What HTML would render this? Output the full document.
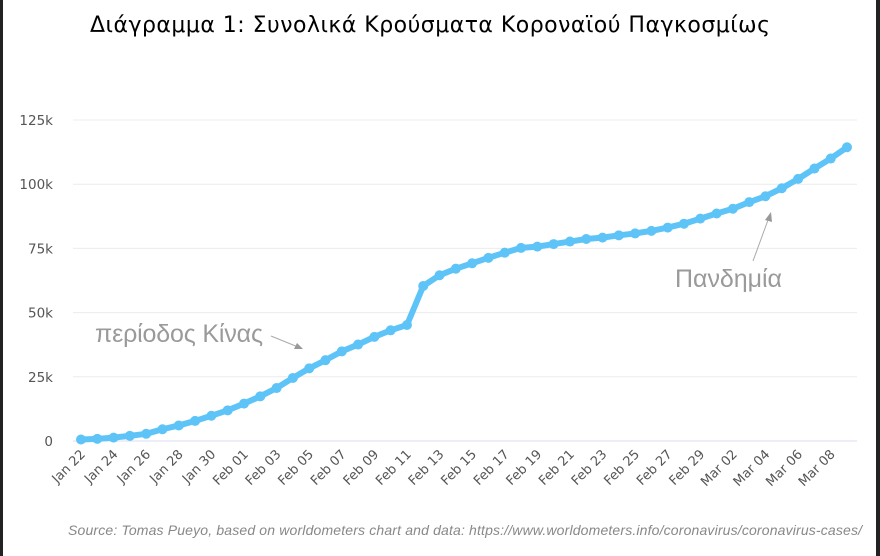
<!DOCTYPE html>
<html><head><meta charset="utf-8"><style>
html,body{margin:0;padding:0;background:#fff}
svg{display:block}
</style></head><body>
<svg id="chart" width="880" height="556" viewBox="0 0 880 556" xmlns="http://www.w3.org/2000/svg">
<rect x="0" y="0" width="880" height="556" fill="#fff"/>
<rect x="0" y="0" width="3" height="556" fill="#222"/>
<rect x="876" y="0" width="4" height="556" fill="#222"/>
<text x="90" y="32" font-family="DejaVu Sans, sans-serif" font-size="22" fill="#000" textLength="680">Διάγραμμα 1: Συνολικά Κρούσματα Κοροναϊού Παγκοσμίως</text>
<g id="grid"></g>
<g id="yticks"></g>
<g id="xticks"></g>
<g id="series"></g>
<text x="95" y="342" font-family="Liberation Sans, sans-serif" font-size="25" fill="#9a9a9a" textLength="168">περίοδος Κίνας</text>
<g>
<line x1="271" y1="336" x2="298" y2="347" stroke="#aaa" stroke-width="1"/>
<polygon points="303,349 294,349 297,343" fill="#999"/>
</g>
<text x="675" y="287" font-family="Liberation Sans, sans-serif" font-size="25" fill="#9a9a9a" textLength="107">Πανδημία</text>
<g>
<line x1="753" y1="261" x2="768" y2="220" stroke="#aaa" stroke-width="1"/>
<polygon points="771,212 772,222 765,220" fill="#999"/>
</g>
<text x="68" y="535" font-family="Liberation Sans, sans-serif" font-style="italic" font-size="14" fill="#888" textLength="794">Source: Tomas Pueyo, based on worldometers chart and data: https://www.worldometers.info/coronavirus/coronavirus-cases/</text>
</svg>
<script>
const dates = ["Jan 22","Jan 23","Jan 24","Jan 25","Jan 26","Jan 27","Jan 28","Jan 29","Jan 30","Jan 31","Feb 01","Feb 02","Feb 03","Feb 04","Feb 05","Feb 06","Feb 07","Feb 08","Feb 09","Feb 10","Feb 11","Feb 12","Feb 13","Feb 14","Feb 15","Feb 16","Feb 17","Feb 18","Feb 19","Feb 20","Feb 21","Feb 22","Feb 23","Feb 24","Feb 25","Feb 26","Feb 27","Feb 28","Feb 29","Mar 01","Mar 02","Mar 03","Mar 04","Mar 05","Mar 06","Mar 07","Mar 08","Mar 09"];
const cases = [580,845,1317,2015,2800,4581,6058,7813,9823,11948,14551,17389,20628,24553,28276,31481,34886,37558,40554,43103,45171,60381,64543,67100,69197,71329,73332,75184,75700,76677,77673,78651,79205,80087,80828,81820,83112,84615,86604,88585,90443,93016,95314,98425,102050,106099,109991,114381];
const yTicks = [0,25000,50000,75000,100000,125000];
const yTickLabels = ["0","25k","50k","75k","100k","125k"];

const NS="http://www.w3.org/2000/svg";
const x0=81,x1=847,yBase=441,yTop=120;
function xScale(i){return x0+(x1-x0)*i/(dates.length-1);}
function yScale(v){return yBase-(yBase-yTop)*v/125000;}
function mk(tag,attrs,parent){const e=document.createElementNS(NS,tag);for(const k in attrs)e.setAttribute(k,attrs[k]);parent.appendChild(e);return e;}

const grid=document.getElementById('grid'),yt=document.getElementById('yticks'),xt=document.getElementById('xticks'),ser=document.getElementById('series');
yTicks.forEach((v,i)=>{
  const y=yScale(v);
  const l=mk('line',{x1:73,x2:857,y1:y,y2:y,stroke:i===0?'#dcdcf0':'#ececec','stroke-width':1},grid);
  
  
  const t=mk('text',{x:53,y:y+5,'text-anchor':'end','font-family':'DejaVu Sans, sans-serif','font-size':13.5,fill:'#555'},yt);
  t.textContent=yTickLabels[i];
  
  
});
dates.forEach((d,i)=>{
  if(i%2) return;
  const x=xScale(i);
  const tx=x+5, ty=455;
  const t=mk('text',{x:tx,y:ty,'text-anchor':'end','font-family':'DejaVu Sans, sans-serif','font-size':13,fill:'#555',transform:'rotate(-45 '+tx+' '+ty+')'},xt);
  t.textContent=d;
  
  
});
const pts=cases.map((v,i)=>xScale(i)+','+yScale(v)).join(' ');
const line=mk('polyline',{points:pts,fill:'none',stroke:'#5ec4f8','stroke-width':6,'stroke-linejoin':'round','stroke-linecap':'round'},ser);


cases.forEach((v,i)=>{
  const c=mk('circle',{cx:xScale(i),cy:yScale(v),r:5,fill:'#5ec4f8'},ser);
  
  
});
</script>
</body></html>
